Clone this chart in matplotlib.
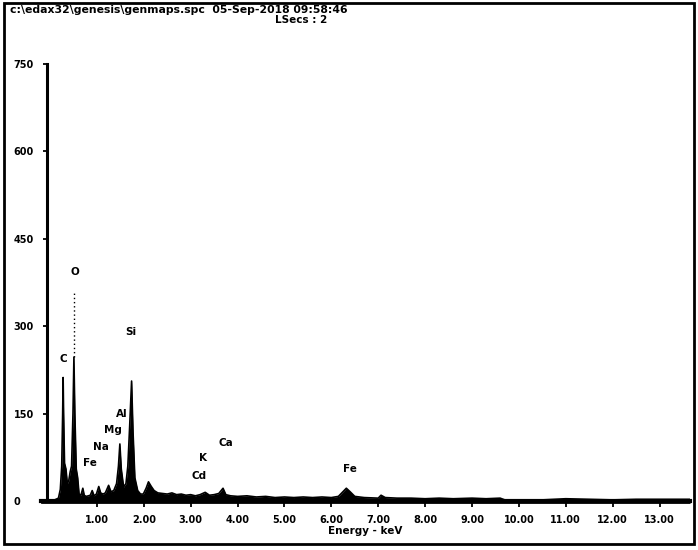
import numpy as np
import matplotlib
matplotlib.use('Agg')
import matplotlib.pyplot as plt
from matplotlib.patches import Rectangle

# EDS spectrum (energy in keV, counts)
energy = [-0.20, 0.10, 0.18, 0.22, 0.25, 0.27, 0.28, 0.29, 0.31, 0.34, 0.37, 0.40,
          0.43, 0.46, 0.49, 0.51, 0.53, 0.56, 0.59, 0.62, 0.66, 0.70, 0.73, 0.77,
          0.82, 0.86, 0.90, 0.94, 0.99, 1.04, 1.08, 1.13, 1.18, 1.25, 1.30, 1.36,
          1.42, 1.46, 1.49, 1.52, 1.57, 1.62, 1.66, 1.70, 1.74, 1.77, 1.81, 1.87,
          1.93, 1.99, 2.05, 2.10, 2.16, 2.22, 2.30, 2.40, 2.50, 2.60, 2.70, 2.80,
          2.90, 3.00, 3.10, 3.20, 3.31, 3.40, 3.50, 3.60, 3.69, 3.75, 3.85, 4.00,
          4.20, 4.40, 4.60, 4.80, 5.00, 5.20, 5.40, 5.60, 5.80, 6.00, 6.15, 6.32,
          6.40, 6.50, 6.70, 7.00, 7.06, 7.15, 7.40, 7.70, 8.00, 8.30, 8.60, 9.00,
          9.30, 9.60, 9.70, 10.00, 10.50, 11.00, 11.50, 12.00, 12.50, 13.00, 13.65]
counts = [0, 2, 5, 20, 60, 150, 212, 150, 65, 55, 30, 35,
          50, 60, 150, 247, 150, 55, 40, 12, 10, 22, 10, 8,
          9, 10, 18, 9, 12, 25, 14, 12, 14, 27, 16, 18,
          30, 60, 98, 55, 24, 30, 60, 130, 206, 120, 40, 18,
          12, 12, 22, 33, 25, 18, 14, 13, 12, 14, 11, 12,
          10, 11, 9, 11, 15, 10, 11, 13, 22, 11, 9, 8,
          9, 7, 8, 6, 7, 6, 7, 6, 7, 6, 8, 22,
          16, 8, 6, 5, 10, 6, 5, 5, 4, 5, 4, 5,
          4, 5, 2, 2, 2, 4, 3, 2, 3, 3, 3]

# O line runs off the top of the peak as a dotted marker
o_line_energy = 0.51
o_line_top = 357

peak_labels = ['O', 'C', 'Si', 'Al', 'Mg', 'Na', 'Fe', 'Ca', 'K', 'Cd', 'Fe']
label_energy = [0.53, 0.28, 1.73, 1.54, 1.34, 1.09, 0.85, 3.75, 3.26, 3.18, 6.40]
label_counts = [393, 243, 290, 149, 122, 93, 65, 99, 74, 43, 55]

xticks = np.arange(1, 14)
xtick_labels = ['%.2f' % v for v in xticks]
yticks = [0, 150, 300, 450, 600, 750]

fig = plt.figure(figsize=(6.98, 5.5), dpi=100)
ax = fig.add_axes([0.0582, 0.0805, 0.9304, 0.8031])

e = np.array(energy)
c = np.array(counts)
ax.fill_between(e, -4, c, color='black', linewidth=0)
ax.plot(e, c, color='black', linewidth=1.2)
ax.plot([o_line_energy, o_line_energy], [247, o_line_top], color='black',
        linestyle=(0, (1, 2)), linewidth=1)

for lab, x, y in zip(peak_labels, label_energy, label_counts):
    ax.text(x, y, lab, ha='center', va='center', fontsize=7.5, fontweight='bold')

ax.set_xlim(-0.2, 13.65)
ax.set_ylim(-8, 750)
ax.spines['top'].set_visible(False)
ax.spines['right'].set_visible(False)
ax.spines['left'].set_position(('data', -0.06))
ax.spines['left'].set_bounds(0, 750)
ax.spines['left'].set_linewidth(2.2)
ax.spines['bottom'].set_position(('data', 0))
ax.spines['bottom'].set_linewidth(3)

ax.set_xticks(xticks)
ax.set_xticklabels(xtick_labels, fontsize=7, fontweight='bold')
ax.set_yticks(yticks)
ax.set_yticklabels([str(v) for v in yticks], fontsize=7, fontweight='bold', ha='left')
ax.tick_params(axis='x', direction='out', length=4, width=1.3, pad=6)
ax.tick_params(axis='y', direction='out', length=3, width=1.3, pad=21)
ax.set_xlabel('Energy - keV', fontsize=7.5, fontweight='bold', labelpad=1)

fig.text(10 / 698, 1 - 10 / 550, r'c:\edax32\genesis\genmaps.spc  05-Sep-2018 09:58:46',
         fontsize=7.8, fontweight='bold', va='center', ha='left')
fig.text(301 / 698, 1 - 20 / 550, 'LSecs : 2', fontsize=7.5, fontweight='bold',
         va='center', ha='center')

fig.patches.append(Rectangle((4 / 698, 6 / 550), 690 / 698, 541 / 550,
                             transform=fig.transFigure, fill=False,
                             edgecolor='black', linewidth=2))

fig.savefig('out.png', dpi=100)
